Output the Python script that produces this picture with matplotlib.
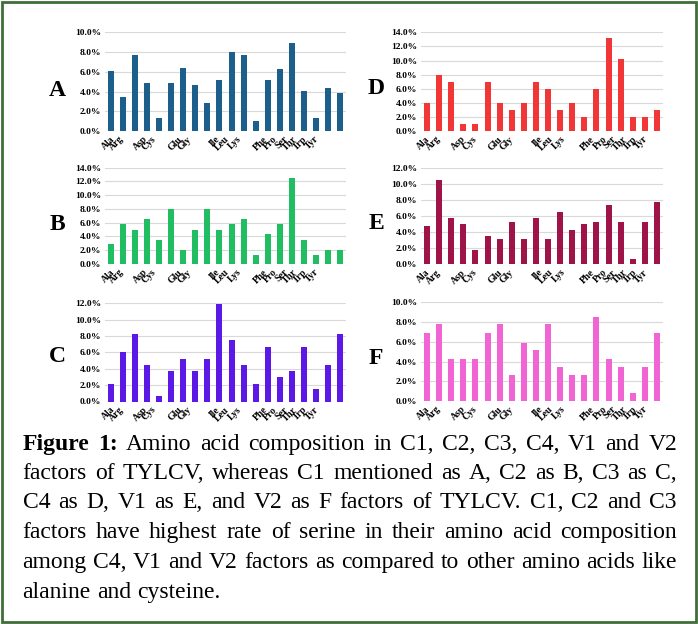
import numpy as np
import matplotlib
matplotlib.use('Agg')
import matplotlib.pyplot as plt
from matplotlib.patches import Rectangle

# amino acid composition (%) of each TYLCV factor, 20 amino acids in order
acids = ['Ala', 'Arg', 'Asn', 'Asp', 'Cys', 'Gln', 'Glu', 'Gly', 'His', 'Ile',
         'Leu', 'Lys', 'Met', 'Phe', 'Pro', 'Ser', 'Thr', 'Trp', 'Tyr', 'Val']
shown_labels = ['Ala', 'Arg', 'Asp', 'Cys', 'Glu', 'Gly', 'Ile', 'Leu', 'Lys',
                'Phe', 'Pro', 'Ser', 'Thr', 'Trp', 'Tyr']

vals_A = [6.1, 3.4, 7.7, 4.9, 1.35, 4.9, 6.35, 4.7, 2.8, 5.2,
          8.0, 7.7, 1.05, 5.2, 6.3, 8.9, 4.1, 1.35, 4.4, 3.85]
vals_B = [2.9, 5.8, 5.0, 6.6, 3.5, 8.0, 2.0, 5.0, 8.0, 5.0,
          5.8, 6.6, 1.3, 4.3, 5.8, 12.5, 3.5, 1.3, 2.0, 2.0]
vals_C = [2.1, 6.0, 8.2, 4.5, 0.7, 3.7, 5.2, 3.7, 5.2, 11.9,
          7.5, 4.5, 2.1, 6.7, 3.0, 3.7, 6.7, 1.5, 4.5, 8.2]
vals_D = [4.0, 8.0, 7.0, 0.95, 0.95, 7.0, 4.0, 3.0, 4.0, 7.0,
          6.0, 3.0, 4.0, 2.0, 6.0, 13.2, 10.2, 2.0, 2.0, 3.0]
vals_E = [4.7, 10.5, 5.8, 5.0, 1.8, 3.5, 3.1, 5.3, 3.1, 5.8,
          3.1, 6.5, 4.3, 5.0, 5.3, 7.4, 5.3, 0.7, 5.3, 7.8]
vals_F = [6.9, 7.8, 4.3, 4.3, 4.3, 6.9, 7.8, 2.6, 5.9, 5.2,
          7.8, 3.4, 2.6, 2.6, 8.5, 4.3, 3.4, 0.8, 3.4, 6.9]

caption = [
    "Figure 1: Amino acid composition in C1, C2, C3, C4, V1 and V2",
    "factors of TYLCV, whereas C1 mentioned as A, C2 as B, C3 as C,",
    "C4 as D, V1 as E, and V2 as F factors of TYLCV. C1, C2 and C3",
    "factors have highest rate of serine in their amino acid composition",
    "among C4, V1 and V2 factors as compared to other amino acids like",
    "alanine and cysteine.",
]

W, H = 698, 624
fig = plt.figure(figsize=(W / 100, H / 100), dpi=100)
serif = 'Liberation Serif'

# label spots (squeezed to the left as in the original export)
lab_left = [0.45, 1.2, 3.2, 3.9, 6.05, 6.8, 9.15, 9.95, 10.95, 13.1, 13.95, 14.8, 15.6, 16.45, 17.35]
lab_right = [0.35, 1.3, 3.35, 4.25, 6.4, 7.25, 9.7, 10.55, 11.55, 14.0, 15.0, 15.8, 16.65, 17.5, 18.4]


def panel(px, py_top, py_bot, vals, ymax, color, letter, letter_xy, lab_pos):
    ax = fig.add_axes([px[0] / W, 1 - py_bot / H, (px[1] - px[0]) / W, (py_bot - py_top) / H])
    x = np.arange(len(vals))
    ax.bar(x, vals, width=0.5, color=color, zorder=3)
    ax.set_xlim(-0.5, len(vals) - 0.5)
    ax.set_ylim(0, ymax)
    yt = np.arange(0, ymax + 0.1, 2)
    ax.set_yticks(yt)
    ax.set_yticklabels(['%.1f%%' % t for t in yt], fontsize=6.8, fontweight='bold', family=serif)
    ax.yaxis.grid(True, color='#d9d9d9', lw=0.8, zorder=0)
    for s in ax.spines.values():
        s.set_visible(False)
    ax.tick_params(length=0)
    ax.tick_params(axis='y', pad=3)
    ax.tick_params(axis='x', pad=2.5)
    ax.set_xticks(lab_pos)
    ax.set_xticklabels(shown_labels, rotation=45, ha='right', fontsize=7,
                       fontweight='bold', family=serif)
    fig.text(letter_xy[0] / W, 1 - letter_xy[1] / H, letter, ha='center', va='center',
             fontsize=17, fontweight='bold', family=serif)


panel((105, 346), 32.3, 131, vals_A, 10, '#1c5f8a', 'A', (57, 90), lab_left)
panel((105, 346), 167.7, 264, vals_B, 14, '#20bd62', 'B', (57, 224), lab_left)
panel((105, 346), 303.3, 401.5, vals_C, 12, '#5c18e4', 'C', (57, 357), lab_left)
panel((421, 663), 32.3, 131, vals_D, 14, '#f03636', 'D', (376, 89), lab_right)
panel((421, 663), 167.7, 264.3, vals_E, 12, '#9e1449', 'E', (376, 223), lab_right)
panel((421, 663), 302.3, 401, vals_F, 10, '#f064d3', 'F', (376, 358), lab_right)

# caption, justified word by word
fig.canvas.draw()
rend = fig.canvas.get_renderer()
x0, x1 = 22.5, 677
baselines = [450, 479, 508.5, 538, 568, 598]


def make_lines(fs):
    out = []
    for i, line in enumerate(caption):
        words = line.split(' ')
        texts = []
        for j, w in enumerate(words):
            bold = (i == 0 and j < 2)
            t = fig.text(0, 1 - baselines[i] / H, w, fontsize=fs, family=serif,
                         fontweight='bold' if bold else 'normal', va='baseline', ha='left')
            texts.append(t)
        widths = [t.get_window_extent(rend).width for t in texts]
        out.append((texts, widths))
    return out


# pick the largest size whose lines still fit with a normal word space
fs = 19.0
while True:
    lines = make_lines(fs)
    space = fs * 0.25 * 100 / 72
    ok = all((x1 - x0 - sum(wd)) / (len(wd) - 1) >= space * 1.05
             for k, (tx, wd) in enumerate(lines) if k < len(lines) - 1)
    if ok or fs < 12:
        break
    for tx, wd in lines:
        for t in tx:
            t.remove()
    fs -= 0.25

for k, (texts, widths) in enumerate(lines):
    if k < len(lines) - 1:
        gap = (x1 - x0 - sum(widths)) / (len(widths) - 1)
    else:
        gap = space
    xp = x0
    for t, wd in zip(texts, widths):
        t.set_x(xp / W)
        xp += wd + gap

# green frame
fig.patches.append(Rectangle((0.003, 0.003), 0.994, 0.994, transform=fig.transFigure,
                             fill=False, edgecolor='#3f6e38', lw=2))

fig.savefig('out.png', dpi=100)
